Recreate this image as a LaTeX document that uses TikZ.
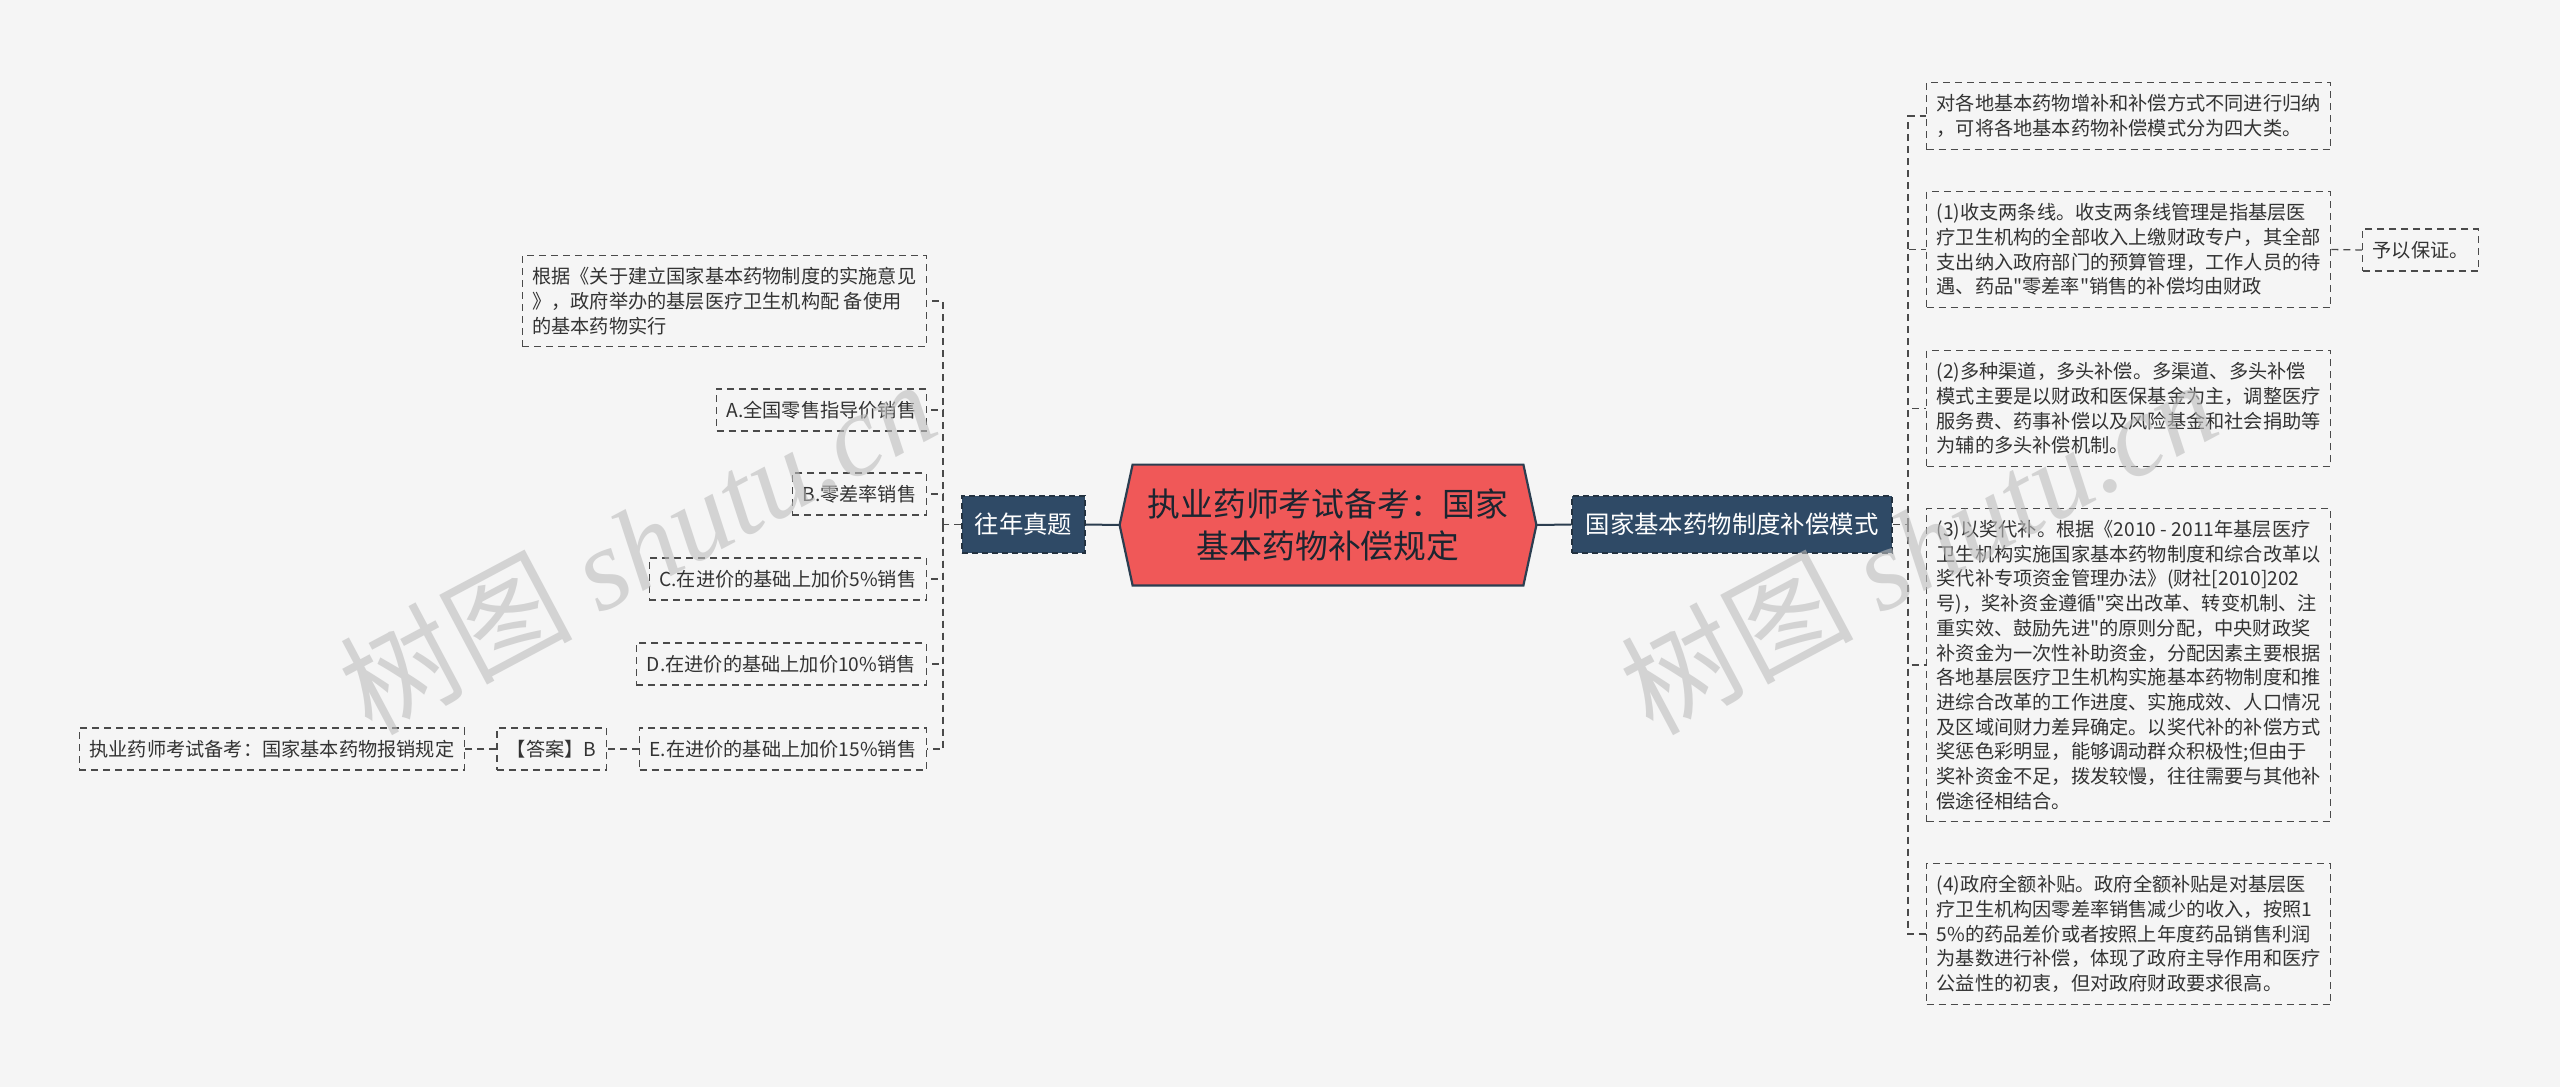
\documentclass[tikz,border=0pt]{standalone}
\usepackage{fontspec}
\setmainfont{Noto Sans CJK SC}
\newfontfamily\cjkplain{Noto Sans CJK SC}
\newfontfamily\wmserif{Liberation Serif}
\usetikzlibrary{backgrounds}
\definecolor{bgc}{HTML}{F5F5F5}
\definecolor{navy}{HTML}{2C3E50}
\definecolor{branchfill}{HTML}{2F4A66}
\definecolor{rootfill}{HTML}{F05858}
\definecolor{leafline}{HTML}{4A4A4A}
\definecolor{leaftext}{HTML}{333333}
\definecolor{wmc}{HTML}{BDBDBD}
\begin{document}
\begin{tikzpicture}[x=0.5pt, y=-0.5pt,
  leaf/.style={draw=leafline, line width=0.65pt, dash pattern=on 3.5pt off 2.5pt,
    inner xsep=5pt, inner ysep=6pt, font=\cjkplain\fontsize{9.6}{12.35}\selectfont,
    align=left, text=leaftext},
  branch/.style={fill=branchfill, draw=navy!80!black, line width=0.65pt,
    dash pattern=on 3pt off 2pt, text=white, font=\cjkplain\fontsize{12.2}{14}\selectfont,
    minimum height=28.5pt, inner sep=4pt},
  conn/.style={draw=leafline, line width=0.65pt, dash pattern=on 3.5pt off 2.5pt},
  trunk/.style={draw=navy, line width=1pt},
  wmark/.style={text=wmc, opacity=0.6, rotate=28, font=\fontsize{58}{60}\selectfont}
]
\useasboundingbox (0,0) rectangle (2560,1087);
\begin{scope}[on background layer]
  \fill[bgc] (0,0) rectangle (2560,1087);
\end{scope}

% root
\node[minimum width=195pt, minimum height=60pt, inner sep=0pt, align=center,
  text=navy!60!black, font=\cjkplain\fontsize{16.4}{21}\selectfont] (root) at (1328,525)
  {执业药师考试备考：国家\\基本药物补偿规定};
\begin{scope}[on background layer]
  \draw[fill=rootfill, draw=navy, line width=1.1pt]
    (root.north west) -- (root.north east) -- ([xshift=6.5pt]root.east)
    -- (root.south east) -- (root.south west) -- ([xshift=-6.5pt]root.west) -- cycle;
\end{scope}

% branches
\node[branch, minimum width=61.5pt] (lmain) at (1023.5,524.5) {往年真题};
\node[branch, minimum width=160pt] (rmain) at (1732,524.5) {国家基本药物制度补偿模式};

% left leaves
\node[leaf, anchor=east, minimum width=201pt] (L0) at (927,301)
  {根据《关于建立国家基本药物制度的实施意见\\》，政府举办的基层医疗卫生机构配 备使用\\的基本药物实行};
\node[leaf, anchor=east, minimum width=104.5pt] (LA) at (927,410) {A.全国零售指导价销售};
\node[leaf, anchor=east, minimum width=66pt] (LB) at (927,494) {B.零差率销售};
\node[leaf, anchor=east, minimum width=138pt] (LC) at (927,579) {C.在进价的基础上加价5\%销售};
\node[leaf, anchor=east, minimum width=145pt] (LD) at (927,664) {D.在进价的基础上加价10\%销售};
\node[leaf, anchor=east, minimum width=142.5pt] (LE) at (927,749) {E.在进价的基础上加价15\%销售};
\node[leaf, anchor=east, minimum width=54.5pt] (ans) at (607,749) {【答案】B};
\node[leaf, anchor=east, minimum width=192.5pt] (rule) at (465,749) {执业药师考试备考：国家基本药物报销规定};

% right leaves
\node[leaf, anchor=west, minimum width=201pt] (R1) at (1926,116)
  {对各地基本药物增补和补偿方式不同进行归纳\\，可将各地基本药物补偿模式分为四大类。};
\node[leaf, anchor=west, minimum width=201pt] (R2) at (1926,249.5)
  {(1)收支两条线。收支两条线管理是指基层医\\疗卫生机构的全部收入上缴财政专户，其全部\\支出纳入政府部门的预算管理，工作人员的待\\遇、药品"零差率"销售的补偿均由财政};
\node[leaf, anchor=west, minimum width=57.5pt] (bz) at (2362,250) {予以保证。};
\node[leaf, anchor=west, minimum width=201pt] (R3) at (1926,408.5)
  {(2)多种渠道，多头补偿。多渠道、多头补偿\\模式主要是以财政和医保基金为主，调整医疗\\服务费、药事补偿以及风险基金和社会捐助等\\为辅的多头补偿机制。};
\node[leaf, anchor=west, minimum width=201pt] (R4) at (1926,665)
  {(3)以奖代补。根据《2010 - 2011年基层医疗\\卫生机构实施国家基本药物制度和综合改革以\\奖代补专项资金管理办法》(财社[2010]202\\号)，奖补资金遵循"突出改革、转变机制、注\\重实效、鼓励先进"的原则分配，中央财政奖\\补资金为一次性补助资金，分配因素主要根据\\各地基层医疗卫生机构实施基本药物制度和推\\进综合改革的工作进度、实施成效、人口情况\\及区域间财力差异确定。以奖代补的补偿方式\\奖惩色彩明显，能够调动群众积极性;但由于\\奖补资金不足，拨发较慢，往往需要与其他补\\偿途径相结合。};
\node[leaf, anchor=west, minimum width=201pt] (R5) at (1926,934)
  {(4)政府全额补贴。政府全额补贴是对基层医\\疗卫生机构因零差率销售减少的收入，按照1\\5\%的药品差价或者按照上年度药品销售利润\\为基数进行补偿，体现了政府主导作用和医疗\\公益性的初衷，但对政府财政要求很高。};

% trunk connectors
\draw[trunk] (root.west) ++(-6.5pt,0) -- (lmain.east);
\draw[trunk] (root.east) ++(6.5pt,0) -- (rmain.west);

% left bracket
\coordinate (lj) at (943,524.5);
\draw[conn] (lmain.west) -- (lj);
\foreach \n in {L0,LA,LB,LC,LD,LE}{
  \draw[conn] (lj) |- (\n.east);
}
\draw[conn] (LE.west) -- (ans.east);
\draw[conn] (ans.west) -- (rule.east);

% right bracket
\coordinate (rj) at (1908,524.5);
\draw[conn] (rmain.east) -- (rj);
\foreach \n in {R1,R2,R3,R4,R5}{
  \draw[conn] (rj) |- (\n.west);
}
\draw[conn] (R2.east) -- (bz.west);

% watermarks
\node[wmark] (wm1) at (637,545) {树图 {\wmserif\itshape shutu.cn}};
\node[wmark] (wm2) at (1918,545) {树图 {\wmserif\itshape shutu.cn}};
\end{tikzpicture}
\end{document}
